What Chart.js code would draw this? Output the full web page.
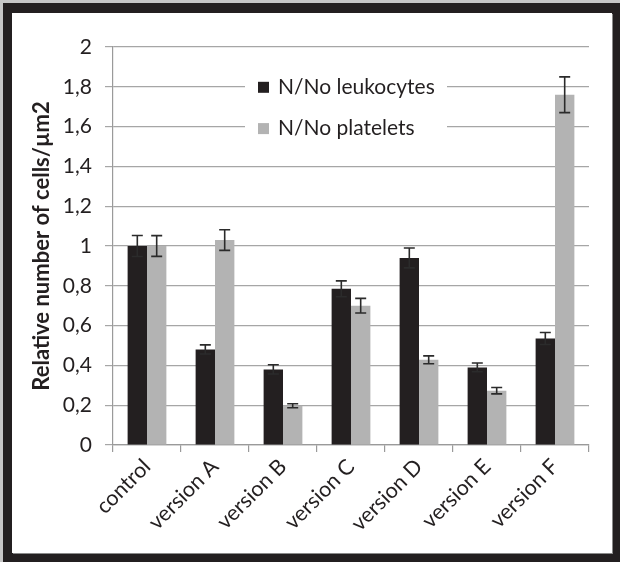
<!DOCTYPE html>
<html>
<head>
<meta charset="utf-8">
<script src="https://cdn.jsdelivr.net/npm/chart.js@4.4.0/dist/chart.umd.min.js"></script>
<style>
  html, body { margin: 0; padding: 0; background: #c6c6c6; width: 620px; height: 562px; overflow: hidden; }
  #frame { position: absolute; left: 3px; top: 3px; width: 617px; height: 559px; background: #231f20; }
  #inner { position: absolute; left: 9px; top: 10px; width: 600px; height: 540px; background: #ffffff; box-shadow: 1px 1px 0 #8a8a8a; }
  canvas { display: block; }
</style>
</head>
<body>
<div id="frame"><div id="inner"><canvas id="c" width="600" height="540"></canvas></div></div>
<script>
const categories = ['control', 'version A', 'version B', 'version C', 'version D', 'version E', 'version F'];
const seriesNames = ['N/No leukocytes', 'N/No platelets'];
const leukocytes = [1.00, 0.48, 0.38, 0.785, 0.94, 0.39, 0.535];
const leukocytesErr = [0.053, 0.023, 0.023, 0.04, 0.05, 0.022, 0.03];
const platelets = [1.00, 1.03, 0.197, 0.70, 0.428, 0.273, 1.76];
const plateletsErr = [0.052, 0.052, 0.01, 0.037, 0.02, 0.016, 0.09];
const yTicks = ['0', '0,2', '0,4', '0,6', '0,8', '1', '1,2', '1,4', '1,6', '1,8', '2'];
const yTitle = 'Relative number of cells/µm2';

const FONT = 'Lato';
const barColors = ['#231f20', '#b3b3b3'];

const errorBars = {
  id: 'errorBars',
  afterDatasetsDraw(chart) {
    const ctx = chart.ctx;
    const y = chart.scales.y;
    const errs = [leukocytesErr, plateletsErr];
    ctx.save();
    ctx.strokeStyle = '#2b2b2b';
    ctx.lineWidth = 1.6;
    chart.data.datasets.forEach((ds, di) => {
      const meta = chart.getDatasetMeta(di);
      meta.data.forEach((bar, i) => {
        const v = ds.data[i], e = errs[di][i];
        const yt = y.getPixelForValue(v + e), yb = y.getPixelForValue(v - e);
        const x = bar.x, hw = 5.5;
        ctx.beginPath();
        ctx.moveTo(x, yt); ctx.lineTo(x, yb);
        ctx.moveTo(x - hw, yt); ctx.lineTo(x + hw, yt);
        ctx.moveTo(x - hw, yb); ctx.lineTo(x + hw, yb);
        ctx.stroke();
      });
    });
    ctx.restore();
  }
};

const legendBox = {
  id: 'legendBox',
  afterDatasetsDraw(chart) {
    const ctx = chart.ctx;
    const y = chart.scales.y;
    ctx.save();
    const bx = 233, bw = 202;
    const yA = y.getPixelForValue(1.8), yB = y.getPixelForValue(1.6);
    ctx.fillStyle = '#ffffff';
    ctx.fillRect(bx, yA - 20, bw, (yB - yA) + 40);
    ctx.font = '21px ' + FONT;
    ctx.textBaseline = 'middle';
    ctx.textAlign = 'left';
    const rows = [yA + 0.5, yB + 2];
    seriesNames.forEach((name, i) => {
      ctx.fillStyle = barColors[i];
      ctx.fillRect(246, rows[i] - 5.5, 11, 11);
      ctx.fillStyle = '#231f20';
      ctx.fillText(name, 266, rows[i]);
    });
    ctx.restore();
  }
};

new Chart(document.getElementById('c'), {
  type: 'bar',
  data: {
    labels: categories,
    datasets: [
      { label: seriesNames[0], data: leukocytes, backgroundColor: barColors[0], borderWidth: 0, categoryPercentage: 0.57, barPercentage: 1.0 },
      { label: seriesNames[1], data: platelets, backgroundColor: barColors[1], borderWidth: 0, categoryPercentage: 0.57, barPercentage: 1.0 }
    ]
  },
  options: {
    responsive: false,
    devicePixelRatio: 1,
    animation: false,
    layout: { padding: { top: 34, right: 23, left: 0, bottom: 0 } },
    plugins: { legend: { display: false }, tooltip: { enabled: false } },
    scales: {
      x: {
        grid: { display: true, drawOnChartArea: false, drawTicks: true, tickLength: 7, offset: true, color: '#9a9a9a', lineWidth: 1.2 },
        border: { display: true, color: '#9a9a9a', width: 1.2 },
        ticks: { minRotation: 45, maxRotation: 45, color: '#231f20', font: { family: FONT, size: 21.5 }, padding: 2 },
        afterFit(s) { s.height = 108; }
      },
      y: {
        min: 0, max: 2,
        grid: { color: '#a6a6a6', lineWidth: 1.2, tickLength: 8 },
        border: { display: true, color: '#9a9a9a', width: 1.2 },
        ticks: {
          stepSize: 0.2, color: '#231f20', font: { family: FONT, size: 21 }, padding: 13,
          callback(v, i) { return yTicks[i]; }
        },
        title: { display: true, text: yTitle, color: '#231f20', font: { family: FONT, size: 22, weight: 'bold' }, padding: { top: 17, bottom: 0 } },
        afterFit(s) { s.width = 101; }
      }
    }
  },
  plugins: [errorBars, legendBox]
});
</script>
</body>
</html>
